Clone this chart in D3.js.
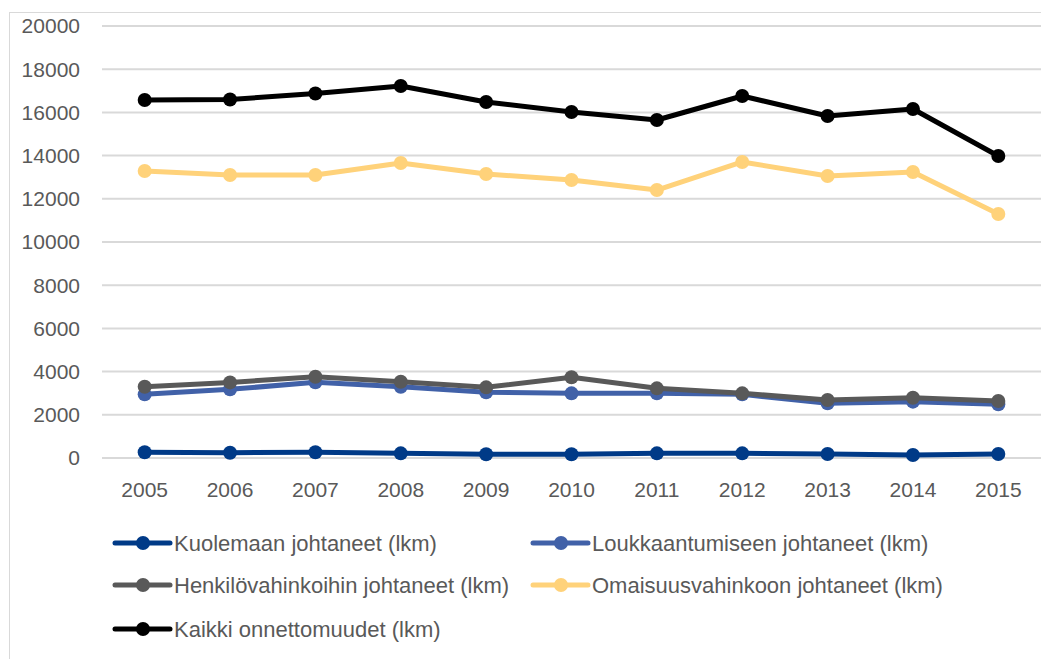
<!DOCTYPE html>
<html>
<head>
<meta charset="utf-8">
<script src="https://cdn.jsdelivr.net/npm/d3@7"></script>
<style>
  body { margin: 0; background: #fff; }
  svg text { font-family: "Liberation Sans", Arial, sans-serif; fill: #595959; }
</style>
</head>
<body>
<div id="chart"></div>
<script>
const years = ["2005", "2006", "2007", "2008", "2009", "2010", "2011", "2012", "2013", "2014", "2015"];
const yTicks = [0, 2000, 4000, 6000, 8000, 10000, 12000, 14000, 16000, 18000, 20000];

const kuolemaan = [263, 245, 263, 216, 171, 171, 216, 216, 185, 139, 185];
const loukkaantumiseen = [2947, 3179, 3503, 3300, 3040, 2994, 2994, 2947, 2531, 2608, 2485];
const henkilo = [3300, 3500, 3765, 3532, 3272, 3735, 3225, 2994, 2685, 2792, 2639];
const omaisuus = [13287, 13102, 13102, 13657, 13148, 12870, 12407, 13704, 13056, 13241, 11296];
const kaikki = [16574, 16600, 16875, 17222, 16481, 16018, 15648, 16759, 15833, 16157, 13981];

const seriesNames = [
  "Kuolemaan johtaneet (lkm)",
  "Loukkaantumiseen johtaneet (lkm)",
  "Henkilövahinkoihin johtaneet (lkm)",
  "Omaisuusvahinkoon johtaneet (lkm)",
  "Kaikki onnettomuudet (lkm)"
];
const seriesColors = ["#003A87", "#4161A8", "#595959", "#FFD27A", "#000000"];
const seriesValues = [kuolemaan, loukkaantumiseen, henkilo, omaisuus, kaikki];

const width = 1041, height = 659;
const svg = d3.select("#chart").append("svg")
  .attr("width", width).attr("height", height);

// chart area border
svg.append("rect")
  .attr("x", 9.5).attr("y", 12.5)
  .attr("width", 1040).attr("height", 660)
  .attr("fill", "none").attr("stroke", "#d9d9d9").attr("stroke-width", 1);

const x = d3.scaleBand().domain(years).range([102, 1041]);
const y = d3.scaleLinear().domain([0, 20000]).range([458, 26]);

// gridlines
svg.append("g")
  .selectAll("line")
  .data(yTicks)
  .enter()
  .append("line")
  .attr("x1", 102).attr("x2", 1041)
  .attr("y1", d => y(d)).attr("y2", d => y(d))
  .attr("stroke", "#d9d9d9").attr("stroke-width", 2);

// y axis labels
svg.append("g")
  .selectAll("text")
  .data(yTicks)
  .enter()
  .append("text")
  .attr("x", 80).attr("y", d => y(d))
  .attr("dy", "0.35em")
  .attr("text-anchor", "end")
  .style("font-size", "21px")
  .text(d => d);

// x axis labels
svg.append("g")
  .selectAll("text")
  .data(years)
  .enter()
  .append("text")
  .attr("x", d => x(d) + x.bandwidth() / 2)
  .attr("y", 490)
  .attr("dy", "0.35em")
  .attr("text-anchor", "middle")
  .style("font-size", "21px")
  .text(d => d);

const line = d3.line()
  .x((d, i) => x(years[i]) + x.bandwidth() / 2)
  .y(d => y(d));

seriesValues.forEach((vals, s) => {
  const g = svg.append("g");
  g.append("path")
    .datum(vals)
    .attr("d", line)
    .attr("fill", "none")
    .attr("stroke", seriesColors[s])
    .attr("stroke-width", 5)
    .attr("stroke-linejoin", "round");
  g.selectAll("circle")
    .data(vals)
    .enter()
    .append("circle")
    .attr("cx", (d, i) => x(years[i]) + x.bandwidth() / 2)
    .attr("cy", d => y(d))
    .attr("r", 7)
    .attr("fill", seriesColors[s]);
});

// legend
const legendPos = [[115, 543], [533, 543], [115, 585], [533, 585], [115, 629]];
seriesNames.forEach((name, i) => {
  const [lx, ly] = legendPos[i];
  const g = svg.append("g").attr("transform", `translate(${lx},${ly})`);
  g.append("line")
    .attr("x1", 0).attr("x2", 55)
    .attr("stroke", seriesColors[i]).attr("stroke-width", 5)
    .attr("stroke-linecap", "round");
  g.append("circle").attr("cx", 28).attr("r", 7).attr("fill", seriesColors[i]);
  g.append("text")
    .attr("x", 59).attr("dy", "0.35em")
    .style("font-size", "22px")
    .text(name);
});
</script>
</body>
</html>
